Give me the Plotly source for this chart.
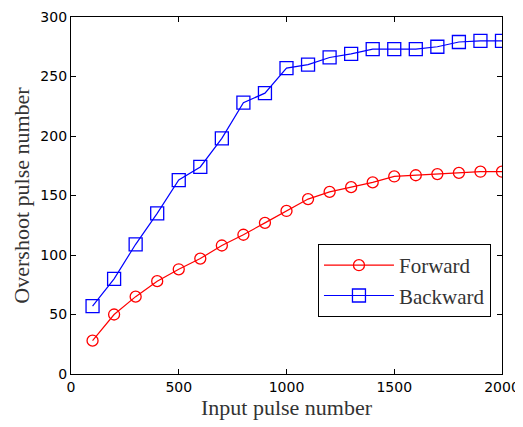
import plotly.graph_objects as go

x_vals = [100, 200, 300, 400, 500, 600, 700, 800, 900, 1000,
          1100, 1200, 1300, 1400, 1500, 1600, 1700, 1800, 1900, 2000]
forward = [28, 50, 65, 78, 88, 97, 108, 117, 127, 137,
           147, 153, 157, 161, 166, 167, 168, 169, 170, 170]
backward = [57, 80, 109, 135, 163, 174, 198, 228, 236, 257,
            260, 266, 269, 273, 273, 273, 275, 279, 280, 280]
x_ticks = [0, 500, 1000, 1500, 2000]
y_ticks = [0, 50, 100, 150, 200, 250, 300]

fig = go.Figure()
fig.add_trace(go.Scatter(
    x=x_vals, y=forward, name="Forward", mode="lines+markers",
    line=dict(color="#ff0000", width=1.2),
    marker=dict(symbol="circle-open", size=11, color="#ff0000", line=dict(width=1.3))))
fig.add_trace(go.Scatter(
    x=x_vals, y=backward, name="Backward", mode="lines+markers",
    line=dict(color="#0000ff", width=1.2),
    marker=dict(symbol="square-open", size=13, color="#0000ff", line=dict(width=1.3))))

axis_common = dict(
    showgrid=False, zeroline=False, showline=True, linecolor="black", linewidth=1.2,
    mirror="ticks", ticks="inside", ticklen=5, tickcolor="black", automargin=False,
    tickfont=dict(family="DejaVu Sans", size=14, color="black"),
)
fig.update_xaxes(range=[0, 2000], tickvals=x_ticks,
                 title=dict(text="Input pulse number", standoff=2,
                            font=dict(family="Liberation Serif, Times New Roman", size=22, color="#333")),
                 **axis_common)
fig.update_yaxes(range=[0, 300], tickvals=y_ticks,
                 title=dict(text="Overshoot pulse number", standoff=4,
                            font=dict(family="Liberation Serif, Times New Roman", size=22, color="#333")),
                 **axis_common)

# page body has an 8px default margin, so the figure is sized to fit inside the window
fig.update_layout(
    width=515, height=419,
    margin=dict(l=63, r=21, t=9, b=53),
    paper_bgcolor="white", plot_bgcolor="white",
    showlegend=True,
    legend=dict(x=0.573, y=0.364, xanchor="left", yanchor="top",
                bordercolor="black", borderwidth=1, bgcolor="white",
                font=dict(family="Liberation Serif, Times New Roman", size=21, color="#333"),
                tracegroupgap=0, itemwidth=70),
)

fig.write_html("out.html")
